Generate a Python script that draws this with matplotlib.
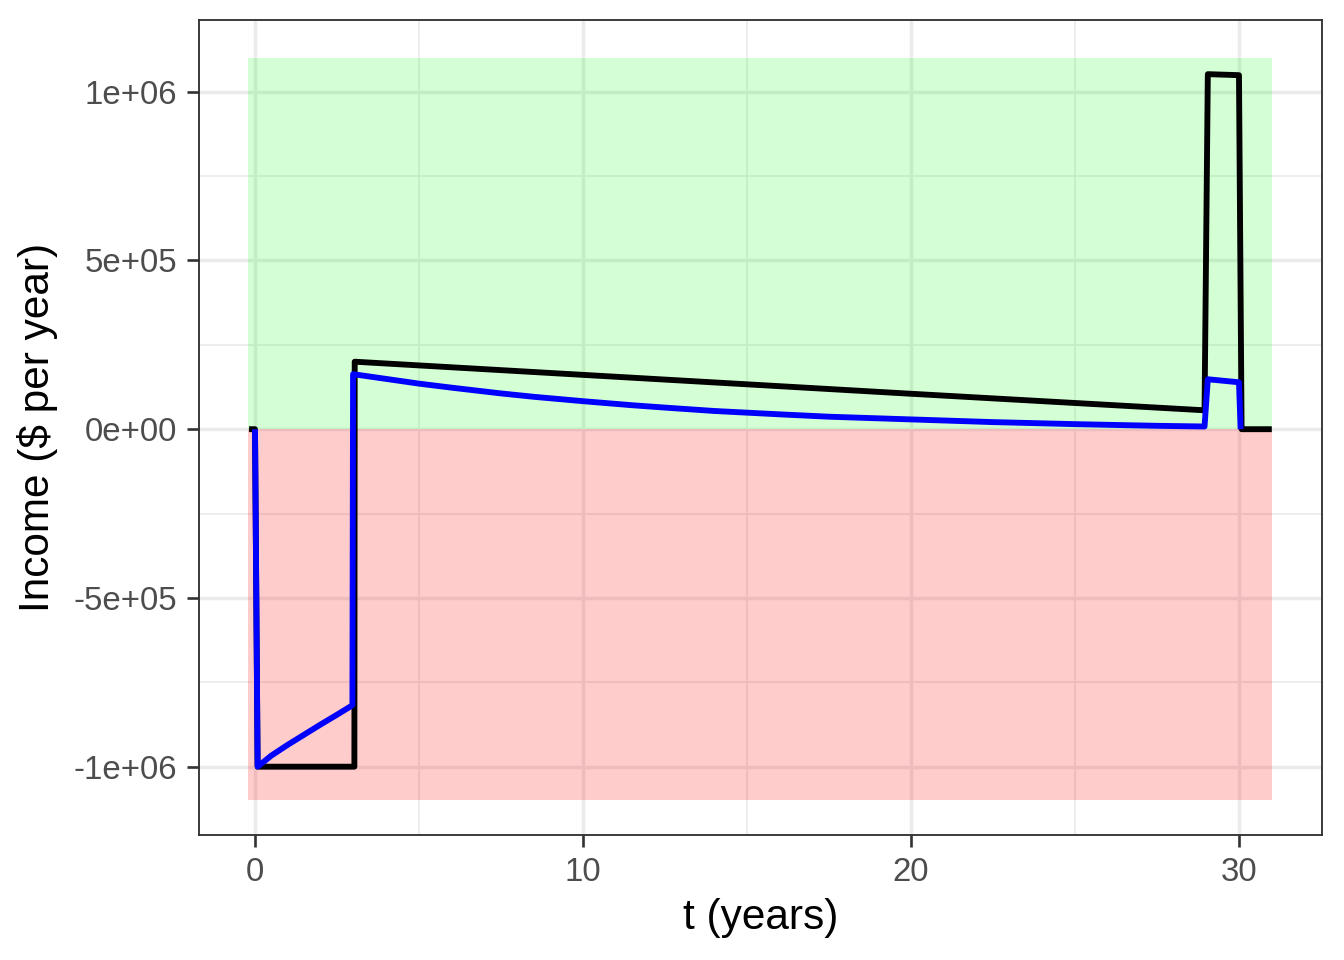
import numpy as np
import matplotlib.pyplot as plt

plt.rcParams['font.family'] = ['Liberation Sans', 'DejaVu Sans']

# undiscounted income (black)
t_nominal = [-0.18, 0.0, 0.08, 3.03, 3.04, 10.0, 20.0, 28.95, 29.05, 30.0, 30.08, 31.0]
inc_nominal = [0, 0, -1.0e6, -1.0e6, 2.0e5, 1.61e5, 1.05e5, 5.6e4, 1.052e6, 1.049e6, 0, 0]

# discounted income (blue)
t_disc = [0.0, 0.08, 0.5, 1.0, 1.5, 2.0, 2.5, 2.97, 2.99, 4.0, 5.0, 6.0, 7.5, 8.5,
          10.0, 11.5, 12.5, 14.0, 15.0, 16.0, 17.5, 20.0, 22.5, 25.0, 27.5, 28.95,
          29.05, 30.0, 30.05]
inc_disc = [0, -1.0e6, -0.967e6, -0.935e6, -0.905e6, -0.875e6, -0.846e6, -0.818e6,
            1.63e5, 1.49e5, 1.35e5, 1.23e5, 1.06e5, 0.96e5, 0.83e5, 0.71e5, 0.64e5,
            0.54e5, 0.49e5, 0.44e5, 0.37e5, 0.29e5, 0.21e5, 0.15e5, 0.10e5, 0.08e5,
            1.48e5, 1.39e5, 0]

# shaded regions
rect_x = [-0.2, 31.0]
gain_y = [0, 1.1e6]
loss_y = [-1.1e6, 0]

yticks = [-1e6, -5e5, 0, 5e5, 1e6]
ylabels = ['-1e+06', '-5e+05', '0e+00', '5e+05', '1e+06']
xticks = [0, 10, 20, 30]

fig = plt.figure(figsize=(7, 5), dpi=192)
ax = fig.add_axes([0.148, 0.130, 0.8356, 0.849])

ax.set_xlim(-1.71, 32.53)
ax.set_ylim(-1.203e6, 1.212e6)

# grid (theme_bw style)
for x in xticks:
    ax.axvline(x, color='#EBEBEB', lw=1.3, zorder=0)
for x in [5, 15, 25]:
    ax.axvline(x, color='#EBEBEB', lw=0.65, zorder=0)
for y in yticks:
    ax.axhline(y, color='#EBEBEB', lw=1.3, zorder=0)
for y in [-7.5e5, -2.5e5, 2.5e5, 7.5e5]:
    ax.axhline(y, color='#EBEBEB', lw=0.65, zorder=0)

ax.fill_between(rect_x, gain_y[0], gain_y[1], color='#00FF00', alpha=0.17, lw=0, zorder=1)
ax.fill_between(rect_x, loss_y[0], loss_y[1], color='#FF0000', alpha=0.2, lw=0, zorder=1)

ax.plot(t_nominal, inc_nominal, color='black', lw=2.2, zorder=3, solid_capstyle='butt')
ax.plot(t_disc, inc_disc, color='blue', lw=2.2, zorder=4, solid_capstyle='butt')

ax.set_xticks(xticks)
ax.set_yticks(yticks)
ax.set_yticklabels(ylabels)
ax.tick_params(axis='both', length=4.5, width=1.0, color='#333333',
               labelsize=12.4, labelcolor='#4D4D4D', pad=3.5)
for s in ax.spines.values():
    s.set_color('#333333')
    s.set_linewidth(0.7)

ax.set_xlabel('t (years)', fontsize=15.9, labelpad=4)
ax.set_ylabel('Income (\\$ per year)', fontsize=15.9, labelpad=6)

fig.savefig('out.png', dpi=192)
